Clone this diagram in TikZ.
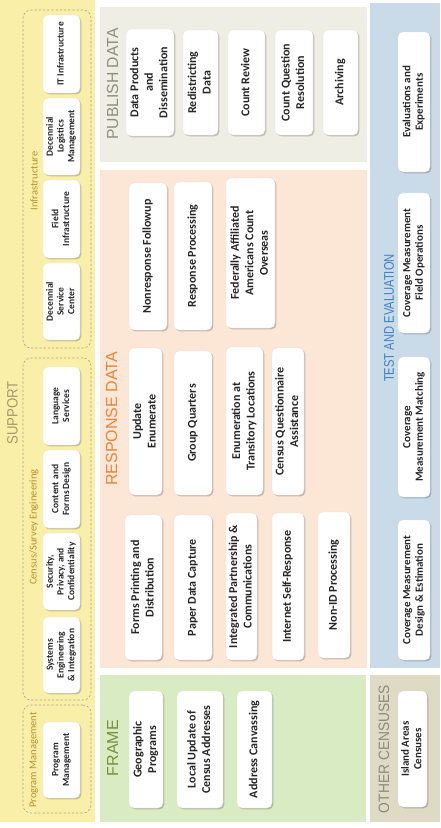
\documentclass[tikz,border=0pt]{standalone}
\usepackage{fontspec}
\setmainfont{Carlito}
\newfontfamily\titlefont{Liberation Sans}
\usepackage{graphicx}
\usetikzlibrary{shadows}

\definecolor{supbg}{HTML}{FAEFA9}
\definecolor{pubbg}{HTML}{EEEEE5}
\definecolor{resbg}{HTML}{FCE6D6}
\definecolor{frmbg}{HTML}{D9EBC2}
\definecolor{tstbg}{HTML}{C9DAE8}
\definecolor{othbg}{HTML}{DEDAC4}
\definecolor{suptx}{HTML}{A5996A}
\definecolor{pubtx}{HTML}{8E8E86}
\definecolor{restx}{HTML}{E8863C}
\definecolor{frmtx}{HTML}{76923C}
\definecolor{tsttx}{HTML}{3F80C6}
\definecolor{othtx}{HTML}{8C8A7E}
\definecolor{grptx}{HTML}{B8902A}
\definecolor{boxtx}{HTML}{262626}
\definecolor{dashc}{HTML}{A8A08A}

\newcommand{\rt}[1]{\rotatebox{90}{\begin{tabular}{@{}c@{}}#1\end{tabular}}}
\newcommand{\bx}[7]{\node[#1,minimum width=#4pt-#2pt,minimum height=#5pt-#3pt] (#6) at ({(#2+#4)/2},{(#3+#5)/2}) {\rt{#7}};}
\newcommand{\ttl}[3]{\rotatebox{90}{\titlefont\fontsize{#1}{#1}\selectfont\scalebox{#2}[1]{#3}}}

\tikzset{
  box/.style={fill=white, draw=black!10, line width=0.3pt, rounded corners=5pt, inner sep=0pt, text=boxtx,
    drop shadow={shadow xshift=1.4pt, shadow yshift=-1.4pt, opacity=0.3, fill=black!70}},
  sbox/.style={box, font=\bfseries\fontsize{9.5}{10.8}\selectfont},
  mbox/.style={box, font=\bfseries\fontsize{12}{14.5}\selectfont},
  tbox/.style={box, font=\bfseries\fontsize{11}{12.5}\selectfont},
  grp/.style={draw=dashc, dash pattern=on 2.2pt off 2pt, line width=0.6pt, rounded corners=8pt},
  glbl/.style={inner sep=0pt, text=grptx, font=\fontsize{10.5}{12}\selectfont},
  ttlnode/.style={inner sep=0pt}
}

\begin{document}
\begin{tikzpicture}[x=1pt,y=-1pt]
\useasboundingbox (0,0) rectangle (440,828);
\fill[white] (0,0) rectangle (440,828);

% section backgrounds
\fill[supbg] (0,0) rectangle (95,822);
\fill[pubbg] (100,7) rectangle (367,162);
\fill[resbg] (100,170) rectangle (367,668);
\fill[frmbg] (100,675) rectangle (366,822);
\fill[tstbg] (370,3) rectangle (440,668);
\fill[othbg] (370,675) rectangle (440,822);

% support groups
\node[grp, minimum width=68pt, minimum height=338pt, inner sep=0pt] (gInfra) at (57,179) {};
\node[grp, minimum width=68pt, minimum height=342pt, inner sep=0pt] (gCSE) at (57,529) {};
\node[grp, minimum width=68pt, minimum height=108pt, inner sep=0pt] (gPM) at (57,759) {};
\node[glbl] (lInfra) at (34,181) {\rotatebox{90}{Infrastructure}};
\node[glbl] (lCSE) at (34,527) {\rotatebox{90}{Census/Survey Engineering}};
\node[glbl] (lPM) at (34,760) {\rotatebox{90}{Program Management}};

% titles
\node[ttlnode, text=suptx] (tSup) at (12.5,413) {\ttl{15}{0.88}{SUPPORT}};
\node[ttlnode, text=pubtx] (tPub) at (112.5,84) {\ttl{16}{0.98}{PUBLISH DATA}};
\node[ttlnode, text=restx] (tRes) at (111.5,419) {\ttl{16}{1}{RESPONSE DATA}};
\node[ttlnode, text=frmtx] (tFrm) at (112.5,748) {\ttl{16}{1}{FRAME}};
\node[ttlnode, text=tsttx] (tTst) at (389,318) {\ttl{14}{0.8}{TEST AND EVALUATION}};
\node[ttlnode, text=othtx] (tOth) at (384,749) {\ttl{15}{0.92}{OTHER CENSUSES}};

% support boxes
\bx{sbox}{43}{15}{80}{93}{sIT}{IT Infrastructure}
\bx{sbox}{43}{98}{80}{175}{sDLM}{Decennial\\Logistics\\Management}
\bx{sbox}{43}{180}{80}{258}{sFI}{Field\\Infrastructure}
\bx{sbox}{43}{263}{80}{340}{sDSC}{Decennial\\Service\\Center}
\bx{sbox}{43}{367}{80}{445}{sLS}{Language\\Services}
\bx{sbox}{43}{450}{80}{528}{sCFD}{Content and\\Forms Design}
\bx{sbox}{43}{533}{80}{610}{sSPC}{Security,\\Privacy, and\\Confidentiality}
\bx{sbox}{43}{617}{80}{693}{sSEI}{Systems\\Engineering\\\& Integration}
\bx{sbox}{43}{722}{80}{798}{sPM}{Program\\Management}

% publish data
\bx{mbox}{126}{29}{174}{136}{pDP}{Data Products\\and\\Dissemination}
\bx{mbox}{183}{30}{218}{135}{pRD}{Redistricting\\Data}
\bx{mbox}{228}{30}{265}{135}{pCR}{Count Review}
\bx{mbox}{275}{30}{313}{135}{pCQR}{Count Question\\Resolution}
\bx{mbox}{323}{30}{358}{135}{pAR}{Archiving}

% response data
\bx{mbox}{129}{183}{167}{330}{rNRFU}{Nonresponse Followup}
\bx{mbox}{174}{182}{212}{330}{rRP}{Response Processing}
\bx{mbox}{226}{178}{275}{328}{rFAAC}{Federally Affiliated\\Americans Count\\Overseas}
\bx{mbox}{129}{348}{162}{495}{rUE}{Update\\Enumerate}
\bx{mbox}{174}{351}{212}{495}{rGQ}{Group Quarters}
\bx{mbox}{226}{347}{263}{495}{rETL}{Enumeration at\\Transitory Locations}
\bx{mbox}{272}{348}{304}{495}{rCQA}{Census Questionnaire\\Assistance}
\bx{mbox}{125}{515}{162}{660}{rFPD}{Forms Printing and\\Distribution}
\bx{mbox}{174}{515}{212}{660}{rPDC}{Paper Data Capture}
\bx{mbox}{226}{513}{257}{660}{rIPC}{Integrated Partnership \&\\Communications}
\bx{mbox}{272}{513}{304}{660}{rISR}{Internet Self-Response}
\bx{mbox}{318}{512}{350}{658}{rNID}{Non-ID Processing}

% frame
\bx{mbox}{129}{691}{163}{808}{fGP}{Geographic\\Programs}
\bx{mbox}{177}{691}{223}{808}{fLUCA}{Local Update of\\Census Addresses}
\bx{mbox}{237}{691}{272}{808}{fAC}{Address Canvassing}

% test and evaluation
\bx{tbox}{398}{32}{430}{172}{tEE}{Evaluations and\\Experiments}
\bx{tbox}{398}{193}{430}{333}{tFO}{Coverage Measurement\\Field Operations}
\bx{tbox}{398}{357}{430}{497}{tMM}{Coverage\\Measurement Matching}
\bx{tbox}{398}{520}{430}{660}{tDE}{Coverage Measurement\\Design \& Estimation}

% other censuses
\bx{tbox}{398}{691}{427}{807}{oIA}{Island Areas\\Censuses}
\end{tikzpicture}
\end{document}
